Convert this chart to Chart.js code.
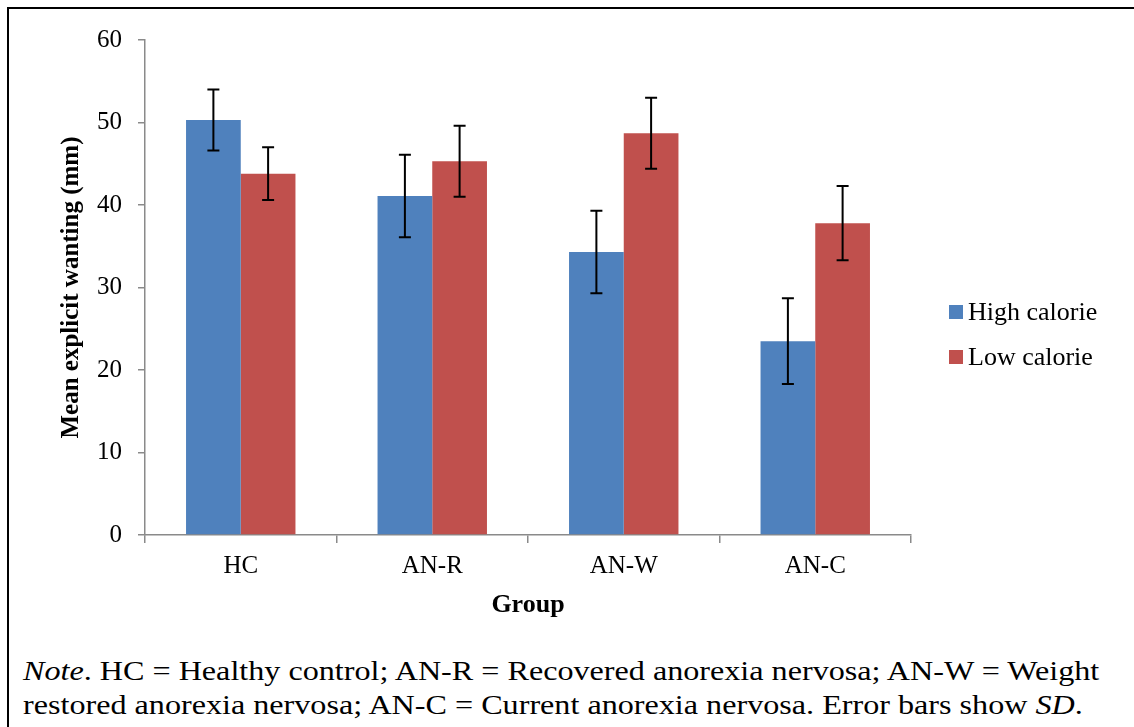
<!DOCTYPE html>
<html lang="en">
<head>
<meta charset="UTF-8">
<title>Mean explicit wanting by group</title>
<script src="https://cdn.jsdelivr.net/npm/chart.js"></script>
<style>
    html, body {
        margin: 0;
        padding: 0;
        background: #fff;
        overflow: hidden;
    }
    body {
        width: 1134px;
        height: 727px;
        position: relative;
        font-family: "Liberation Serif", "Times New Roman", serif;
        color: #000;
    }
    .frame {
        position: absolute;
        left: 7px;
        top: 7px;
        width: 1140px;
        height: 740px;
        border: 2px solid #000;
    }
    .chart-box {
        position: absolute;
        left: 0;
        top: 0;
    }
    .legend {
        position: absolute;
        left: 949px;
        top: 289px;
        font-size: 26px;
    }
    .legend div {
        display: flex;
        align-items: center;
        height: 45px;
    }
    .color-box {
        width: 14px;
        height: 14px;
        margin-right: 5px;
    }
    .note {
        position: absolute;
        left: 23px;
        top: 654px;
        font-size: 28px;
        line-height: 34px;
        white-space: nowrap;
        transform: scaleX(1.148);
        transform-origin: left top;
    }
</style>
</head>
<body>
<div class="frame"></div>
<div class="chart-box">
    <canvas id="wantingChart" width="1134" height="640"></canvas>
</div>

<div class="legend">
    <div><span class="color-box" style="background-color: #4F81BD;"></span>High calorie</div>
    <div><span class="color-box" style="background-color: #C0504D;"></span>Low calorie</div>
</div>

<div class="note">
    <i>Note</i>. HC = Healthy control; AN-R = Recovered anorexia nervosa; AN-W = Weight<br>
    restored anorexia nervosa; AN-C = Current anorexia nervosa. Error bars show <i>SD</i>.
</div>

<script>
    // values
    const groups = ['HC', 'AN-R', 'AN-W', 'AN-C'];
    const highCalorie = [50.3, 41.1, 34.3, 23.5];
    const lowCalorie = [43.8, 45.3, 48.7, 37.8];
    const highCalorieSD = [3.7, 5.0, 5.0, 5.2];
    const lowCalorieSD = [3.2, 4.3, 4.3, 4.5];
    const yTicks = [0, 10, 20, 30, 40, 50, 60];

    const axisGrey = '#8a8a8a';
    const serif = '"Liberation Serif", "Times New Roman", serif';

    // draws the SD whiskers on top of each bar
    const errorBars = {
        id: 'errorBars',
        afterDatasetsDraw(chart) {
            const ctx = chart.ctx;
            const yScale = chart.scales.y;
            chart.data.datasets.forEach((ds, di) => {
                const meta = chart.getDatasetMeta(di);
                meta.data.forEach((bar, i) => {
                    const top = yScale.getPixelForValue(ds.data[i] + ds.sd[i]);
                    const bottom = yScale.getPixelForValue(ds.data[i] - ds.sd[i]);
                    ctx.save();
                    ctx.strokeStyle = '#000';
                    ctx.lineWidth = 2;
                    ctx.beginPath();
                    ctx.moveTo(bar.x, top);
                    ctx.lineTo(bar.x, bottom);
                    ctx.moveTo(bar.x - 6, top);
                    ctx.lineTo(bar.x + 6, top);
                    ctx.moveTo(bar.x - 6, bottom);
                    ctx.lineTo(bar.x + 6, bottom);
                    ctx.stroke();
                    ctx.restore();
                });
            });
        }
    };

    const ctx = document.getElementById('wantingChart').getContext('2d');
    const wantingChart = new Chart(ctx, {
        type: 'bar',
        data: {
            labels: groups,
            datasets: [
                {
                    label: 'High calorie',
                    data: highCalorie,
                    sd: highCalorieSD,
                    backgroundColor: '#4F81BD'
                },
                {
                    label: 'Low calorie',
                    data: lowCalorie,
                    sd: lowCalorieSD,
                    backgroundColor: '#C0504D'
                }
            ]
        },
        options: {
            responsive: false,
            animation: false,
            devicePixelRatio: 1,
            categoryPercentage: 2 / 3.5,
            barPercentage: 1,
            layout: {
                padding: { top: 40, right: 223, bottom: 0, left: 0 }
            },
            plugins: {
                legend: { display: false },
                tooltip: { enabled: false }
            },
            scales: {
                x: {
                    grid: {
                        offset: true,
                        drawOnChartArea: false,
                        drawTicks: true,
                        tickLength: 8,
                        color: axisGrey,
                        lineWidth: 1.5
                    },
                    border: { color: axisGrey, width: 1.5 },
                    ticks: {
                        color: '#000',
                        padding: 8,
                        font: { family: serif, size: 25 }
                    },
                    title: {
                        display: true,
                        text: 'Group',
                        color: '#000',
                        padding: { top: 0, bottom: 19 },
                        font: { family: serif, size: 26, weight: 'bold' }
                    },
                    afterFit: (scale) => { scale.height = 105; }
                },
                y: {
                    min: 0,
                    max: 60,
                    afterBuildTicks: (scale) => {
                        scale.ticks = yTicks.map(v => ({ value: v }));
                    },
                    grid: {
                        drawOnChartArea: false,
                        drawTicks: true,
                        tickLength: 7,
                        color: axisGrey,
                        lineWidth: 1.5
                    },
                    border: { color: axisGrey, width: 1.5 },
                    ticks: {
                        color: '#000',
                        padding: 16,
                        font: { family: serif, size: 25 }
                    },
                    title: {
                        display: true,
                        text: 'Mean explicit wanting (mm)',
                        color: '#000',
                        padding: { top: 57, bottom: 0 },
                        font: { family: serif, size: 25, weight: 'bold' }
                    },
                    afterFit: (scale) => { scale.width = 145; }
                }
            }
        },
        plugins: [errorBars]
    });
</script>
</body>
</html>
